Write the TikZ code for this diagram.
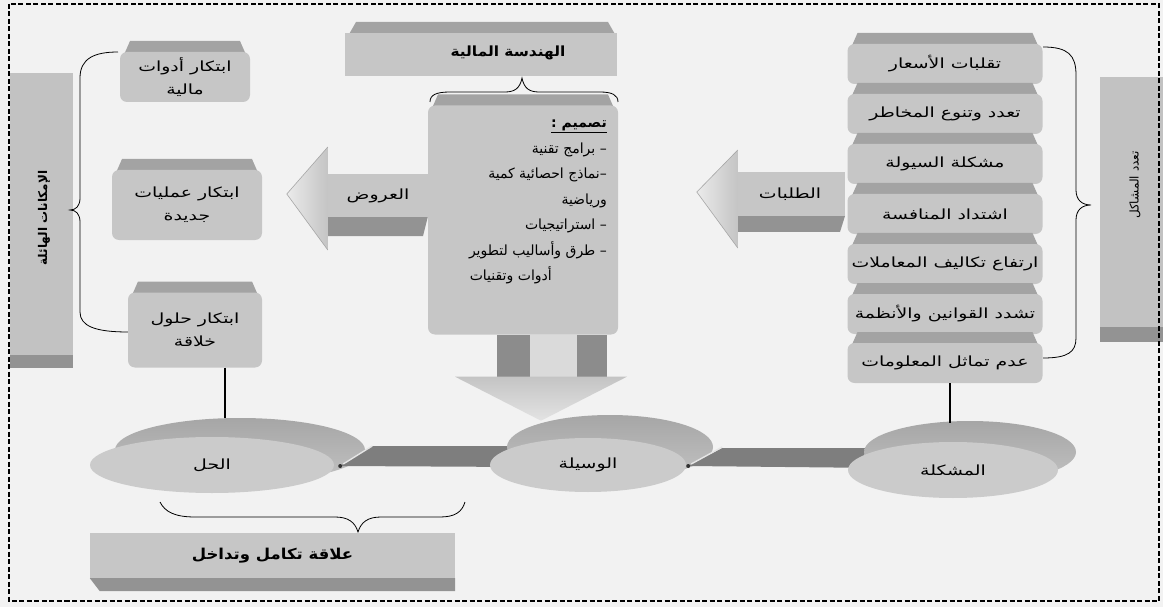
\documentclass[tikz,border=0pt]{standalone}
\usepackage{graphicx}
\usepackage{fontspec}
\newfontfamily\arabicfont[Script=Arabic]{DejaVu Sans}
\TeXXeTstate=1
\usetikzlibrary{calc,shapes.geometric}

% Arabic text runs right to left; \arw sets it a little wider
\newcommand\ar[1]{{\arabicfont\beginR #1\endR}}
\newcommand\arw[1]{\scalebox{1.35}[1]{\ar{#1}}}
\newcommand\bxfont{\fontsize{14}{23}\selectfont}
\newcommand\ctrfont{\fontsize{14}{25.5}\selectfont}

\definecolor{bg}{HTML}{F2F2F2}
\definecolor{boxgray}{HTML}{C6C6C6}
\definecolor{topgray}{HTML}{A3A3A3}
\definecolor{panelgray}{HTML}{C2C2C2}
\definecolor{darkband}{HTML}{939393}
\definecolor{discfront}{HTML}{CBCBCB}
\definecolor{discbacktop}{HTML}{A6A6A6}
\definecolor{discbackbot}{HTML}{C2C2C2}
\definecolor{flatarrow}{HTML}{7E7E7E}
\definecolor{headlight}{HTML}{EBEBEB}
\definecolor{headgray}{HTML}{C4C4C4}
\definecolor{shaftdark}{HTML}{8C8C8C}
\definecolor{shaftlight}{HTML}{DADADA}

% box with a darker top face: name, cx, cy, width, height, text
\newcommand\topbox[6]{%
  \fill[topgray] (#2-#4/2+3,#3-#5/2+5) -- (#2-#4/2+10,#3-#5/2-11)
     -- (#2+#4/2-10,#3-#5/2-11) -- (#2+#4/2-3,#3-#5/2+5) -- cycle;
  \node[bodybox, minimum width=#4pt, minimum height=#5pt] (#1) at (#2,#3) {#6};}

\begin{document}
\begin{tikzpicture}[x=1pt,y=-1pt,
  bodybox/.style={fill=boxgray, rounded corners=7pt, inner sep=2pt, font=\bxfont, align=center},
  panel/.style={fill=panelgray, inner sep=0pt},
  arrowbody/.style={fill=boxgray, inner sep=0pt, font=\bxfont},
  disc/.style={ellipse, inner sep=0pt},
  brace/.style={draw=black, line width=0.8pt},
  link/.style={draw=black, line width=2.6pt},
  frame/.style={draw=black, line width=2pt, dash pattern=on 5pt off 2.5pt}]

\fill[bg] (0,0) rectangle (1163,607);
\useasboundingbox (0,0) rectangle (1163,607);

% side panels
\node[panel, minimum width=63pt, minimum height=282pt] (lpanel) at (41.5,214) {};
\fill[darkband] (10,355) rectangle (73,368);
\node[rotate=90, font=\fontsize{12}{14}\selectfont\bfseries] (lptext) at (44,218) {\ar{الإمكانات الهائلة}};

\node[panel, minimum width=63pt, minimum height=250pt] (rpanel) at (1131.5,202) {};
\fill[darkband] (1100,327) rectangle (1163,342);
\node[rotate=90, font=\fontsize{12}{14}\selectfont] (rptext) at (1135,185) {\ar{تعدد المشاكل}};

% braces
\draw[brace] (1043,47) .. controls (1068,47) and (1076,55) .. (1076,75) -- (1076,190)
  .. controls (1076,200) and (1082,205) .. (1091,205)
  .. controls (1082,205) and (1076,210) .. (1076,220) -- (1076,338)
  .. controls (1076,352) and (1068,358) .. (1043,358);
\draw[brace] (118,52) .. controls (95,52) and (80,58) .. (80,78) -- (80,198)
  .. controls (80,206) and (76,210) .. (70,210)
  .. controls (76,210) and (80,214) .. (80,222) -- (80,312)
  .. controls (80,326) and (95,332) .. (128,332);
\draw[brace] (430,102) .. controls (430,95) and (436,92) .. (450,92) -- (505,92)
  .. controls (515,92) and (520,88) .. (522,78)
  .. controls (524,88) and (529,92) .. (539,92) -- (600,92)
  .. controls (612,92) and (618,95) .. (618,102);
\draw[brace] (160,502) .. controls (165,512) and (175,517) .. (195,517) -- (335,517)
  .. controls (348,517) and (355,522) .. (358,532)
  .. controls (361,522) and (368,517) .. (381,517) -- (440,517)
  .. controls (455,517) and (462,512) .. (465,502);

% title
\fill[topgray] (348,36) -- (356,22) -- (608,22) -- (616,36) -- cycle;
\node[fill=boxgray, minimum width=272pt, minimum height=43pt, inner sep=0pt] (title) at (481,55) {};
\node[font=\fontsize{14}{16}\selectfont\bfseries] (titletext) at (508,53) {\scalebox{1.1}[1]{\ar{الهندسة المالية}}};

% problems column
\topbox{p1}{945}{64}{195}{40}{\arw{تقلبات الأسعار}}
\topbox{p2}{945}{114}{195}{40}{\arw{تعدد وتنوع المخاطر}}
\topbox{p3}{945}{164}{195}{40}{\arw{مشكلة السيولة}}
\topbox{p4}{945}{214}{195}{40}{\arw{اشتداد المنافسة}}
\topbox{p5}{945}{264}{195}{40}{\arw{ارتفاع تكاليف المعاملات}}
\topbox{p6}{945}{314}{195}{40}{\arw{تشدد القوانين والأنظمة}}
\topbox{p7}{945}{363}{195}{40}{\arw{عدم تماثل المعلومات}}

% innovation column
\topbox{inA}{185}{77}{130}{50}{\arw{ابتكار أدوات}\\\arw{مالية}}
\topbox{inB}{187}{205}{150}{70}{\arw{ابتكار عمليات}\\\arw{جديدة}}
\topbox{inC}{195}{330}{134}{75}{\arw{ابتكار حلول}\\\arw{خلاقة}}

% design box
\topbox{design}{523}{220}{190}{229}{}
\node[anchor=north east, align=right, font=\ctrfont, inner sep=0pt] (designtext) at (607,120) {%
  \underline{\ar{\textbf{تصميم :}}}\\
  \ar{– برامج تقنية}\\
  \ar{–نماذج احصائية كمية}\\
  \ar{ورياضية}\\
  \ar{– استراتيجيات}\\
  \ar{– طرق وأساليب لتطوير}\\
  \ar{أدوات وتقنيات}\hspace*{55pt}};

% offers arrow (pointing left)
\fill[darkband] (328,216) -- (428,216) -- (423,236) -- (328,236) -- cycle;
\node[arrowbody, minimum width=100pt, minimum height=43pt] (offers) at (378,196) {\arw{العروض}};
\shade[left color=headlight, right color=headgray] ($(offers.west)+(-41,-2)$) -- ($(offers.west)+(0,-49)$) -- ($(offers.west)+(0,54)$) -- cycle;
\draw[gray!70, line width=0.6pt] ($(offers.west)+(0,-49)$) -- ($(offers.west)+(-41,-2)$) -- ($(offers.west)+(0,54)$);

% demands arrow (pointing left)
\fill[darkband] (735,216) -- (845,216) -- (840,232) -- (735,232) -- cycle;
\node[arrowbody, minimum width=110pt, minimum height=44pt] (demands) at (790,194) {\arw{الطلبات}};
\shade[left color=headlight, right color=headgray] ($(demands.west)+(-38,-2)$) -- ($(demands.west)+(3,-44)$) -- ($(demands.west)+(3,54)$) -- cycle;
\draw[gray!70, line width=0.6pt] ($(demands.west)+(3,-44)$) -- ($(demands.west)+(-38,-2)$) -- ($(demands.west)+(3,54)$);

% down arrow shaft under the design box
\fill[shaftlight] ($(design.south)+(-26,0)$) rectangle ($(design.south)+(84,43)$);
\fill[shaftdark] ($(design.south)+(-26,0)$) rectangle ($(design.south)+(7,42)$);
\fill[shaftdark] ($(design.south)+(54,0)$) rectangle ($(design.south)+(84,42)$);

% solution disc
\node[disc, top color=discbacktop, bottom color=discbackbot, minimum width=250pt, minimum height=64pt] (halback) at (240,450) {};
\node[disc, fill=discfront, minimum width=244pt, minimum height=56pt, font=\bxfont] (hal) at (212,465) {\arw{الحل}};

% flat arrow: means -> solution
\fill[flatarrow] ($(hal.east)+(6,1)$) -- ++(32,-20) -- ++(150,0) -- ++(0,21) -- cycle;
\draw[white!80!gray, line width=1.4pt] ($(hal.east)+(9,-1)$) -- ++(29,-18);
\fill[black!80] ($(hal.east)+(6,1)$) circle (2pt);

% means disc
\node[disc, top color=discbacktop, bottom color=discbackbot, minimum width=206pt, minimum height=64pt] (wasilaback) at (610,447) {};
\node[disc, fill=discfront, minimum width=196pt, minimum height=54pt, font=\bxfont] (wasila) at (588,465) {\arw{الوسيلة}};

% flat arrow: problem -> means
\fill[flatarrow] ($(wasila.east)+(2,1)$) -- ++(34,-18) -- ++(160,0) -- ++(0,20) -- cycle;
\draw[white!80!gray, line width=1.4pt] ($(wasila.east)+(5,-1)$) -- ++(31,-17);
\fill[black!80] ($(wasila.east)+(2,1)$) circle (2pt);

% problem disc
\node[disc, top color=discbacktop, bottom color=discbackbot, minimum width=212pt, minimum height=62pt] (mushback) at (970,452) {};
\node[disc, fill=discfront, minimum width=210pt, minimum height=56pt, font=\bxfont] (mush) at (953,470) {\arw{المشكلة}};

% down arrow head
\shade[top color=headgray, bottom color=headlight!80!headgray] ($(design.south)+(-68,42)$) -- ($(design.south)+(104,42)$) -- ($(design.south)+(18,86)$) -- cycle;

% links to the discs
\draw[link] ([xshift=30pt]inC.south) -- ([xshift=30pt]inC.south |- halback.north);
\draw[link] ([xshift=5pt]p7.south) -- ([xshift=5pt,yshift=-2pt]p7.south |- mushback.north);

% relation label
\node[fill=boxgray, minimum width=365pt, minimum height=45pt, inner sep=0pt, font=\fontsize{15}{17}\selectfont\bfseries] (relation) at (272.5,555.5) {\scalebox{1.1}[1]{\ar{علاقة تكامل وتداخل}}};
\fill[darkband] (relation.south west) -- (relation.south east) -- ($(relation.south east)+(0,13)$) -- ($(relation.south west)+(10,13)$) -- cycle;

% outer frame
\draw[frame] (9,4) rectangle (1159,601);
\end{tikzpicture}
\end{document}
